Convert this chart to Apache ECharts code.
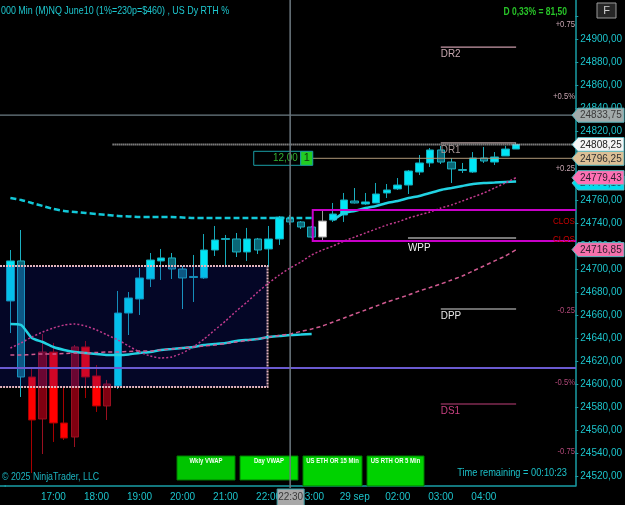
<!DOCTYPE html>
<html>
<head>
<meta charset="utf-8">
<script src="https://cdn.jsdelivr.net/npm/echarts@6/dist/echarts.min.js"></script>
<style>
html, body { margin: 0; padding: 0; background: #000; }
#chart { width: 625px; height: 505px; }
</style>
</head>
<body>
<div id="chart"></div>
<script>
var FONT = "'Liberation Sans',Arial,sans-serif";

/* bar slots, 15 min */
var times = [
  '16:00','16:15','16:30','16:45','17:00','17:15','17:30','17:45',
  '18:00','18:15','18:30','18:45','19:00','19:15','19:30','19:45',
  '20:00','20:15','20:30','20:45','21:00','21:15','21:30','21:45',
  '22:00','22:15','22:30','22:45','23:00','23:15','23:30','23:45',
  '00:00','00:15','00:30','00:45','02:00','02:15','02:30','02:45',
  '03:00','03:15','03:30','03:45','04:00','04:15','04:30','04:45',
  '05:00','05:15','05:30','05:45','06:00'
];
var tickIdx  = [4, 8, 12, 16, 20, 24, 28, 32, 36, 40, 44];
var tickText = ['17:00','18:00','19:00','20:00','21:00','22:00','23:00','29 sep','02:00','03:00','04:00'];

var yMin = 24511.3, yMax = 24933.9;
var priceLabels = [24520, 24540, 24560, 24580, 24600, 24620, 24640, 24660, 24680, 24700,
                   24720, 24740, 24760, 24780, 24800, 24820, 24840, 24860, 24880, 24900];
var priceTicks = priceLabels.concat([24920]);

/* candles */
var barOpen = [24672.2, 24707.0, 24606.1, 24569.6, 24627.8, 24566.1, 24553.9, 24632.2, 24607.0, 24580.9,
  24598.3, 24661.7, 24673.9, 24691.3, 24707.0, 24709.6, 24700.0, 24692.6, 24692.2, 24716.5,
  24725.7, 24726.1, 24714.8, 24726.1, 24717.4, 24726.1, 24744.3, 24740.9, 24736.5, 24727.8,
  24742.6, 24747.0, 24759.1, 24756.5, 24757.4, 24766.1, 24769.6, 24773.0, 24784.3, 24792.2,
  24803.5, 24793.0, 24786.5, 24784.3, 24796.5, 24793.0, 24798.3, 24804.3];
var barClose = [24707.0, 24606.1, 24568.7, 24627.8, 24566.1, 24553.0, 24632.2, 24606.1, 24580.9, 24600.0,
  24661.7, 24674.8, 24692.2, 24707.8, 24709.6, 24700.0, 24692.2, 24693.5, 24716.5, 24725.2,
  24726.5, 24714.8, 24726.1, 24716.5, 24726.1, 24745.2, 24740.9, 24736.5, 24727.8, 24741.7,
  24747.8, 24760.0, 24757.4, 24758.3, 24765.2, 24768.7, 24773.0, 24785.2, 24792.2, 24803.5,
  24793.0, 24787.0, 24785.7, 24796.5, 24793.9, 24797.4, 24804.3, 24808.25];
var barLow = [24644.3, 24588.7, 24522.6, 24539.1, 24549.6, 24551.3, 24545.2, 24587.8, 24575.7, 24568.7,
  24595.7, 24642.6, 24660.0, 24684.3, 24690.4, 24691.3, 24665.2, 24671.3, 24691.3, 24711.3,
  24701.7, 24710.4, 24707.0, 24713.0, 24701.7, 24720.9, 24738.3, 24734.8, 24727.0, 24725.2,
  24740.9, 24740.9, 24757.0, 24755.7, 24757.4, 24761.7, 24768.7, 24765.2, 24781.7, 24788.7,
  24791.3, 24774.8, 24783.5, 24783.5, 24792.2, 24790.4, 24798.3, 24804.3];
var barHigh = [24716.5, 24733.9, 24613.9, 24643.5, 24635.7, 24597.4, 24633.9, 24637.4, 24616.5, 24603.5,
  24680.9, 24680.0, 24700.9, 24713.9, 24717.4, 24713.9, 24702.6, 24712.2, 24730.4, 24737.4,
  24729.6, 24731.3, 24735.7, 24727.0, 24737.4, 24746.1, 24747.0, 24741.7, 24737.4, 24750.4,
  24757.4, 24766.1, 24770.4, 24766.1, 24774.8, 24773.9, 24779.1, 24786.1, 24799.1, 24805.2,
  24807.0, 24796.5, 24792.2, 24801.7, 24806.1, 24801.7, 24807.0, 24809.6];
// c = up (cyan), t = down (teal), r = down (red), d = up (dark red), w = white
var barTone = 'ctrdrrdrrdccccctt' + 'cccctctccttt' + 'wcctcccccccttt' + 'ctccc';

/* indicator lines */
var wklyVwap = [24761.7, 24760.0, 24757.4, 24754.8, 24752.2, 24750.4, 24749.6, 24748.7, 24747.8, 24747.0,
  24746.1, 24745.7, 24745.2, 24745.2, 24745.2, 24745.2, 24744.8, 24744.3, 24744.3, 24744.3,
  24744.3, 24744.3, 24744.3, 24744.3, 24744.3, 24744.3, 24744.3, 24744.3, 24744.3];
var prevDayVwap = [24652.2, 24651.3, 24640.0, 24636.5, 24632.2, 24629.6, 24627.8, 24627.0, 24626.1, 24625.2,
  24625.2, 24625.7, 24627.0, 24627.8, 24629.6, 24630.4, 24631.3, 24632.2, 24633.9, 24634.8,
  24635.7, 24637.4, 24638.3, 24639.1, 24640.9, 24641.7, 24642.6, 24643.0, 24643.5];
var dayVwapStart = 30;
var dayVwap = [24742.6, 24748.7, 24750.4, 24753.0, 24754.8, 24757.4, 24759.1, 24761.7, 24763.5, 24766.1,
  24768.7, 24770.4, 24772.2, 24773.9, 24774.8, 24775.2, 24775.7, 24776.0];
var bandUpper = [24631.3, 24635.7, 24640.9, 24645.2, 24648.7, 24651.3, 24652.2, 24650.4, 24647.0, 24642.6,
  24638.3, 24633.0, 24627.8, 24624.3, 24622.6, 24623.5, 24627.0, 24632.2, 24639.1, 24647.0,
  24654.8, 24663.5, 24671.3, 24680.0, 24687.8, 24694.8, 24700.9, 24706.1, 24712.2, 24716.5,
  24720.0, 24724.3, 24727.8, 24731.3, 24734.8, 24738.3, 24740.9, 24744.3, 24747.0, 24749.6,
  24753.0, 24755.7, 24759.1, 24762.6, 24766.1, 24770.4, 24774.8, 24779.43];
var slowAvg = [24625.2, 24625.2, 24625.7, 24626.1, 24626.1, 24626.5, 24627.0, 24627.0, 24627.4, 24627.8,
  24627.8, 24628.3, 24628.7, 24628.7, 24629.6, 24630.4, 24631.3, 24632.2, 24633.0, 24633.9,
  24635.2, 24636.5, 24637.8, 24639.1, 24640.9, 24642.2, 24643.5, 24645.7, 24647.8, 24650.4,
  24653.9, 24657.4, 24660.9, 24664.3, 24667.8, 24671.3, 24674.3, 24677.4, 24680.9, 24683.9,
  24687.0, 24690.4, 24693.9, 24698.3, 24702.6, 24707.0, 24711.3, 24716.85];

/* levels */
var pivotNames  = ['DR2', 'DR1', 'DPP', 'DS1'];
var pivotValues = [24893.0, 24809.6, 24665.2, 24582.6];
var wpp = 24727.0;
var pctText   = ['+0.75', '+0.5%', '+0.25', '-0.25', '-0.5%', '-0.75'];
var pctValues = [24912.2, 24850.4, 24787.8, 24664.3, 24601.7, 24540.9];
var closeMarks = [24740.9, 24725.2];
var ethHigh = 24751.3, ethLow = 24724.3, ethStart = 28.1;
var rthHigh = 24702.6, rthLow = 24597.4, rthEnd = 23.9;
var purpleLevel = 24613.9;
var crossIdx = 26, crossPrice = 24833.75;
var lastPrice = 24808.25, lastFrom = 9.5;
var entryPrice = 24796.25;
var buttonNames = ['Wkly VWAP', 'Day VWAP', 'US ETH OR 15 Min', 'US RTH OR 5 Min'];

var chart = echarts.init(document.getElementById('chart'));

var toneStyle = {
  c: { color: '#00e6f6', border: '#16a8b8' },
  t: { color: '#0a6676', border: '#1cb0c0' },
  r: { color: '#ff0000', border: '#a80000' },
  d: { color: '#800010', border: '#9a1020' },
  w: { color: '#ffffff', border: '#9a9a9a' }
};

var bars = barOpen.map(function (o, i) {
  var s = toneStyle[barTone[i]];
  return {
    value: [o, barClose[i], barLow[i], barHigh[i]],
    itemStyle: { color: s.color, color0: s.color, borderColor: s.border, borderColor0: s.border }
  };
});

function pad(arr, start) {
  var out = [];
  for (var i = 0; i < times.length; i++) {
    var k = i - start;
    out.push(k >= 0 && k < arr.length ? arr[k] : null);
  }
  return out;
}

function lineSeries(data, color, width, dash) {
  return {
    type: 'line', data: data, symbol: 'none', showSymbol: false, silent: true,
    smooth: 0.2, z: 4, connectNulls: false,
    lineStyle: { color: color, width: width, type: dash }
  };
}

var axisCol = '#1a9ea6', labelCol = '#1cc3cb';

chart.setOption({
  backgroundColor: '#000',
  animation: false,
  grid: { left: 5, right: 49, top: 0, bottom: 19 },
  xAxis: {
    type: 'category', data: times, boundaryGap: true,
    axisLine: { lineStyle: { color: axisCol, width: 1.5 } },
    axisTick: {
      alignWithLabel: true, length: 4, lineStyle: { color: axisCol },
      interval: function (i) { return tickIdx.indexOf(i) >= 0; }
    },
    axisLabel: {
      color: labelCol, fontSize: 10, fontFamily: FONT, margin: 6,
      interval: function (i) { return tickIdx.indexOf(i) >= 0; },
      formatter: function (v, i) { var k = tickIdx.indexOf(i); return k >= 0 ? tickText[k] : ''; }
    },
    splitLine: { show: false }
  },
  yAxis: {
    type: 'value', position: 'right', min: yMin, max: yMax,
    axisLine: { show: true, lineStyle: { color: axisCol, width: 1.5 } },
    axisTick: { show: true, length: 3, customValues: priceTicks, lineStyle: { color: axisCol } },
    axisLabel: {
      customValues: priceLabels, color: labelCol, fontSize: 10, fontFamily: FONT, margin: 5,
      formatter: function (v) { return v.toFixed(2).replace('.', ','); }
    },
    splitLine: { show: false }
  },
  series: [
    { type: 'candlestick', data: bars, barWidth: 8, z: 2, silent: true },
    lineSeries(pad(wklyVwap, 0), '#12c8d8', 2.5, [6, 3]),
    lineSeries(pad(prevDayVwap, 0), '#22d2e2', 2.5, 'solid'),
    lineSeries(pad(dayVwap, dayVwapStart), '#22d2e2', 2.5, 'solid'),
    lineSeries(pad(bandUpper, 0), '#c03a8c', 1.5, [2, 2]),
    lineSeries(pad(slowAvg, 0), '#d05a90', 1.5, [4, 3])
  ]
});

function overlays() {
  var xa = chart.convertToPixel({ xAxisIndex: 0 }, 0);
  var xb = chart.convertToPixel({ xAxisIndex: 0 }, 1);
  var xp = function (i) { return xa + (xb - xa) * i; };
  var yp = function (v) { return chart.convertToPixel({ yAxisIndex: 0 }, v); };
  var R = 576, B = 486;
  var g = [];

  function hl(x1, x2, y, color, w, dash, z) {
    g.push({ type: 'line', silent: true, z: z || 5,
      shape: { x1: x1, y1: y, x2: x2, y2: y },
      style: { stroke: color, lineWidth: w, lineDash: dash || null } });
  }
  function txt(x, y, s, color, size, align, weight, z, sx) {
    g.push({ type: 'text', silent: true, z: z || 6, x: x, y: y, scaleX: sx || 1,
      style: { text: s, fill: color, fontSize: size, fontFamily: FONT, fontWeight: weight || 'normal',
        align: align || 'left', textAlign: align || 'left', verticalAlign: 'middle', textVerticalAlign: 'middle' } });
  }

  // x axis line reaches the left border
  hl(0, 6, B, axisCol, 1.5);

  // RTH opening range box (over candles)
  g.push({ type: 'rect', silent: true, z: 3,
    shape: { x: -3, y: yp(rthHigh), width: xp(rthEnd) + 3, height: yp(rthLow) - yp(rthHigh) },
    style: { fill: 'rgba(20,30,190,0.2)', stroke: '#e2b4be', lineWidth: 2, lineDash: [2, 1] } });

  // purple level
  hl(0, R, yp(purpleLevel), '#6a5ad0', 2);

  // ETH range (magenta)
  var ex = xp(ethStart), et = yp(ethHigh), eb = yp(ethLow);
  g.push({ type: 'polyline', silent: true, z: 5,
    shape: { points: [[R, et], [ex, et], [ex, eb], [R, eb]] },
    style: { stroke: '#c800c8', lineWidth: 2, fill: null } });

  // weekly pivot
  hl(xp(36.95), xp(47), yp(wpp), '#787878', 2);
  txt(xp(36.95), yp(wpp) + 10, 'WPP', '#f0f0f0', 11, 'left', 'normal', 6, 0.9);

  // daily pivots
  var pCol = ['#c89aa8', '#b09c9c', '#d8d8d8', '#c0407a'];
  var tCol = ['#c8a8b0', '#a89898', '#e6e6e6', '#c84080'];
  pivotNames.forEach(function (n, i) {
    var y = yp(pivotValues[i]);
    hl(xp(40), xp(47), y, pCol[i], 1.2);
    txt(xp(40), y + 7, n, tCol[i], 11, 'left', 'normal', 6, 0.9);
  });

  // percent markers
  pctText.forEach(function (s, i) {
    txt(575, yp(pctValues[i]), s, s.charAt(0) === '+' ? '#c8a6b2' : '#b04878', 9, 'right', 'normal', 6, 0.85);
  });
  closeMarks.forEach(function (v) { txt(575, yp(v), 'CLOS', '#cc0000', 9, 'right', 'normal', 6, 0.9); });

  // last price (dotted) and entry line
  hl(xp(lastFrom), R, yp(lastPrice), '#c8c8c8', 2, [1, 1]);
  hl(ex, R, yp(entryPrice), '#b09878', 1);

  // position marker "12,00 | 1"
  var py = yp(entryPrice);
  g.push({ type: 'rect', silent: true, z: 7, shape: { x: ex - 59, y: py - 7, width: 47, height: 14 },
    style: { fill: '#000', stroke: '#1a9ea6', lineWidth: 1 } });
  txt(ex - 15, py, '12,00', '#32b032', 11, 'right', 'normal', 8, 0.9);
  g.push({ type: 'rect', silent: true, z: 7, shape: { x: ex - 12, y: py - 7, width: 12, height: 14 },
    style: { fill: '#22cc22', stroke: '#1a9ea6', lineWidth: 1 } });
  txt(ex - 6, py, '1', '#103010', 11, 'center', 'normal', 8);

  // crosshair
  var cx = xp(crossIdx), cy = yp(crossPrice);
  hl(0, R, cy, '#6c7c84', 1.2, null, 21);
  g.push({ type: 'line', silent: true, z: 21, shape: { x1: cx, y1: 0, x2: cx, y2: B + 2 },
    style: { stroke: '#6c7880', lineWidth: 1.5 } });
  g.push({ type: 'rect', silent: true, z: 22, shape: { x: cx - 13, y: B + 3, width: 27, height: 17 },
    style: { fill: '#a8a8a8', stroke: '#3aa0a8', lineWidth: 1 } });
  txt(cx + 0.5, B + 11.5, '22:30', '#3a3a3a', 10, 'center', 'normal', 23);

  // axis price boxes
  var boxes = [
    { v: crossPrice, t: '24833,75', bg: '#a2aaaa', fg: '#3a3a3a', dy: 0 },
    { v: lastPrice, t: '24808,25', bg: '#f4f4f4', fg: '#202020', dy: 0 },
    { v: entryPrice, t: '24796,25', bg: '#dcc096', fg: '#303030', dy: 0 },
    { v: 24779.10, t: '24779,10', bg: '#00dcee', fg: '#104050', dy: 5 },
    { v: 24779.43, t: '24779,43', bg: '#ff70b4', fg: '#302030', dy: 0 },
    { v: 24716.85, t: '24716,85', bg: '#f570ac', fg: '#302030', dy: 0 }
  ];
  boxes.forEach(function (b, i) {
    var y = yp(b.v) + b.dy;
    g.push({ type: 'polygon', silent: true, z: 30 + i,
      shape: { points: [[572, y], [578, y - 7], [624, y - 7], [624, y + 7], [578, y + 7]] },
      style: { fill: b.bg, stroke: '#5ab8c0', lineWidth: 1 } });
    txt(580, y + 0.5, b.t, b.fg, 10, 'left', 'normal', 30 + i);
  });

  // bottom buttons
  var bx = [177, 240, 303, 367], bw = [58, 58, 59, 57], bh = [24, 24, 30, 30];
  var bc = ['#00c400', '#00dc00', '#00d200', '#00d200'];
  buttonNames.forEach(function (n, i) {
    g.push({ type: 'rect', silent: true, z: 20, shape: { x: bx[i], y: 456, width: bw[i], height: bh[i] },
      style: { fill: bc[i], stroke: '#007a00', lineWidth: 1 } });
    txt(bx[i] + bw[i] / 2, 461, n, '#f4fff4', 7, 'center', 'bold', 20, 0.85);
  });

  // header and footer texts
  txt(1, 11, '000 Min (M)NQ June10 (1%=230p=$460) , US Dy RTH %', '#1ec8d0', 11, 'left', 'normal', 6, 0.81);
  txt(567, 12, 'D 0,33% = 81,50', '#28c428', 10, 'right', 'bold', 6, 0.85);
  txt(2, 477, '\u00a9 2025 NinjaTrader, LLC', '#1cb4c0', 11, 'left', 'normal', 6, 0.8);
  txt(567, 473, 'Time remaining = 00:10:23', '#1cc0c8', 11, 'right', 'normal', 6, 0.84);
  g.push({ type: 'rect', silent: true, z: 20, shape: { x: 597, y: 3, width: 19, height: 15 },
    style: { fill: '#262626', stroke: '#9a9a9a', lineWidth: 1 } });
  txt(606.5, 11, 'F', '#d0d0d0', 11, 'center', 'normal', 21);

  chart.setOption({ graphic: g });
}

overlays();
</script>
</body>
</html>
